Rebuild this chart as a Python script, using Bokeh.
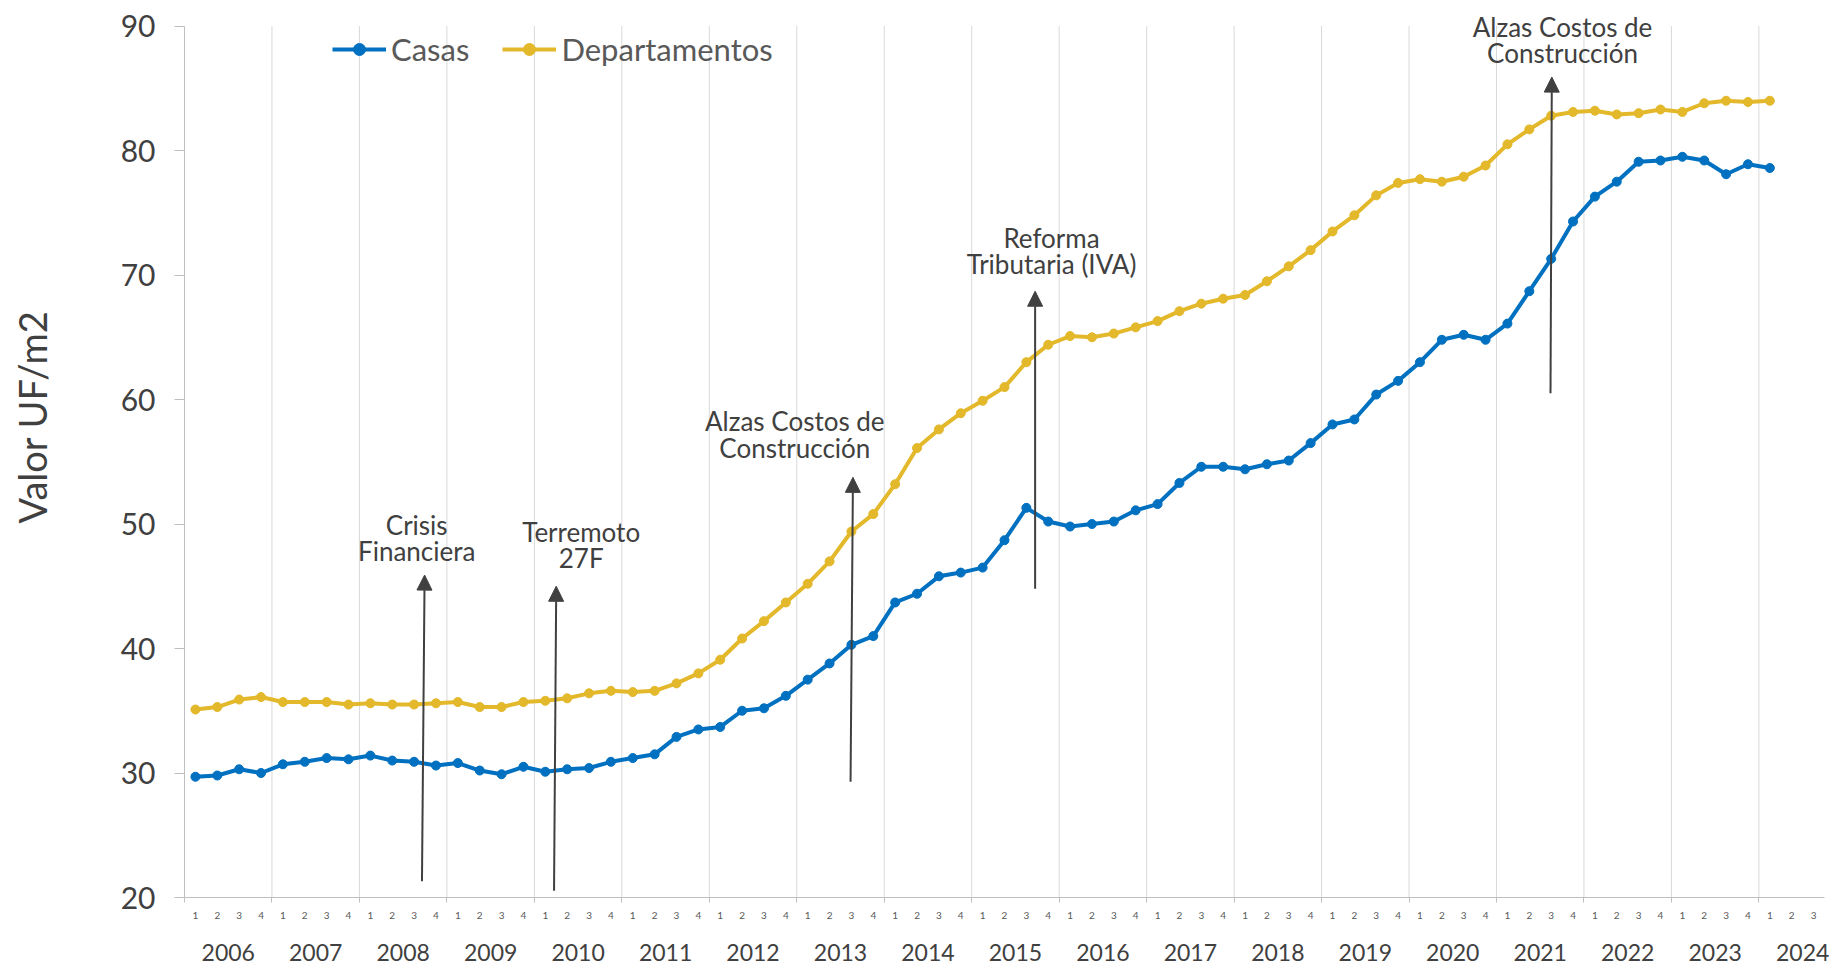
from bokeh.plotting import figure
from bokeh.models import (FixedTicker, LinearAxis, Range1d, Legend, LegendItem,
                          Arrow, NormalHead, ColumnDataSource, Title)
from bokeh.embed import file_html
from bokeh.resources import INLINE
from bokeh.core.properties import value

# ---------------- data ----------------
years = [str(y) for y in range(2006, 2025)]
quarter_names = ["1", "2", "3", "4"]
# axis categories: 2006-Q1 ... 2024-Q3
categories = [(y, q) for y in years for q in quarter_names][:75]

casas = [
    29.7, 29.8, 30.3, 30.0,   # 2006
    30.7, 30.9, 31.2, 31.1,   # 2007
    31.4, 31.0, 30.9, 30.6,   # 2008
    30.8, 30.2, 29.9, 30.5,   # 2009
    30.1, 30.3, 30.4, 30.9,   # 2010
    31.2, 31.5, 32.9, 33.5,   # 2011
    33.7, 35.0, 35.2, 36.2,   # 2012
    37.5, 38.8, 40.3, 41.0,   # 2013
    43.7, 44.4, 45.8, 46.1,   # 2014
    46.5, 48.7, 51.3, 50.2,   # 2015
    49.8, 50.0, 50.2, 51.1,   # 2016
    51.6, 53.3, 54.6, 54.6,   # 2017
    54.4, 54.8, 55.1, 56.5,   # 2018
    58.0, 58.4, 60.4, 61.5,   # 2019
    63.0, 64.8, 65.2, 64.8,   # 2020
    66.1, 68.7, 71.3, 74.3,   # 2021
    76.3, 77.5, 79.1, 79.2,   # 2022
    79.5, 79.2, 78.1, 78.9,   # 2023
    78.6,                     # 2024
]
departamentos = [
    35.1, 35.3, 35.9, 36.1,
    35.7, 35.7, 35.7, 35.5,
    35.6, 35.5, 35.5, 35.6,
    35.7, 35.3, 35.3, 35.7,
    35.8, 36.0, 36.4, 36.6,
    36.5, 36.6, 37.2, 38.0,
    39.1, 40.8, 42.2, 43.7,
    45.2, 47.0, 49.4, 50.8,
    53.2, 56.1, 57.6, 58.9,
    59.9, 61.0, 63.0, 64.4,
    65.1, 65.0, 65.3, 65.8,
    66.3, 67.1, 67.7, 68.1,
    68.4, 69.5, 70.7, 72.0,
    73.5, 74.8, 76.4, 77.4,
    77.7, 77.5, 77.9, 78.8,
    80.5, 81.7, 82.8, 83.1,
    83.2, 82.9, 83.0, 83.3,
    83.1, 83.8, 84.0, 83.9,
    84.0,
]
y_ticks = [20, 30, 40, 50, 60, 70, 80, 90]
y_min, y_max = 20, 90

# annotations (arrows + labels), in data units (x = quarter index)
ann_text = ["Crisis\nFinanciera", "Terremoto\n27F", "Alzas Costos de\nConstrucción",
            "Reforma\nTributaria (IVA)", "Alzas Costos de\nConstrucción"]
ann_x = [10.12, 17.64, 27.41, 39.15, 62.52]
ann_y = [48.9, 48.3, 57.2, 71.95, 88.9]
arr_x0 = [10.36, 16.40, 29.96, 38.40, 61.97]
arr_y0 = [21.3, 20.55, 29.3, 44.8, 60.5]
arr_x1 = [10.48, 16.50, 30.07, 38.40, 62.03]
arr_y1 = [45.9, 45.0, 53.75, 68.7, 85.9]

# ---------------- figure ----------------
n_cat = len(categories)
xi = list(range(len(casas)))
BLUE = "#0070C0"
GOLD = "#E3B82A"
DARK = "#404040"
AXIS = "#BFBFBF"
FONT = "Lato"

p = figure(x_range=Range1d(-0.5, n_cat - 0.5), y_range=Range1d(y_min, 91.25),
           width=1829, height=964,
           min_border_left=184, min_border_right=5, min_border_top=10, min_border_bottom=67,
           output_backend="svg", toolbar_location=None, x_axis_type=None, y_axis_type=None)
p.outline_line_color = None
p.background_fill_color = "white"
p.xgrid.grid_line_color = None
p.ygrid.grid_line_color = None

# year boundaries -> vertical grid lines
boundaries = [4 * k - 0.5 for k in range(0, 19)]
p.segment(x0=boundaries[1:], y0=y_min, x1=boundaries[1:], y1=y_max,
          line_color="#D9D9D9", line_width=1)

# quarter axis
qaxis = LinearAxis(ticker=FixedTicker(ticks=list(range(n_cat)), minor_ticks=boundaries),
                   major_label_overrides={i: categories[i][1] for i in range(n_cat)})
qaxis.axis_line_color = AXIS
qaxis.major_tick_line_color = None
qaxis.major_tick_out = 0
qaxis.major_tick_in = 0
qaxis.minor_tick_line_color = AXIS
qaxis.minor_tick_out = 5
qaxis.minor_tick_in = 0
qaxis.major_label_text_font = FONT
qaxis.major_label_text_font_size = "10px"
qaxis.major_label_text_color = "#595959"
qaxis.major_label_standoff = 9
p.add_layout(qaxis, "below")

# year axis
year_ticks = [4 * k + 1.5 for k in range(len(years))]
yaxis_years = LinearAxis(ticker=FixedTicker(ticks=year_ticks),
                         major_label_overrides={t: years[k] for k, t in enumerate(year_ticks)})
yaxis_years.axis_line_color = None
yaxis_years.major_tick_line_color = None
yaxis_years.major_tick_out = 0
yaxis_years.major_tick_in = 0
yaxis_years.minor_tick_line_color = None
yaxis_years.minor_tick_out = 0
yaxis_years.major_label_text_font = FONT
yaxis_years.major_label_text_font_size = "23px"
yaxis_years.major_label_text_color = DARK
yaxis_years.major_label_standoff = 22
p.add_layout(yaxis_years, "below")

# value axis
vaxis = LinearAxis(ticker=FixedTicker(ticks=y_ticks), bounds=(y_min, y_max))
vaxis.axis_line_color = AXIS
vaxis.major_tick_line_color = AXIS
vaxis.major_tick_out = 10
vaxis.major_tick_in = 0
vaxis.minor_tick_line_color = None
vaxis.major_label_text_font = FONT
vaxis.major_label_text_font_size = "30px"
vaxis.major_label_text_color = DARK
vaxis.major_label_standoff = 19
p.add_layout(vaxis, "left")

# blank spacer panel between the value axis and its title
spacer = Title(text=" ", text_font=FONT, text_font_size="10px")
if "standoff" in spacer.properties():
    spacer.standoff = 47
p.add_layout(spacer, "left")

# axis title
ytitle = Title(text="Valor UF/m2", align="right", vertical_align="top", offset=300,
               text_font=FONT, text_font_size="38px", text_font_style="normal",
               text_color=DARK)
if "standoff" in ytitle.properties():
    ytitle.standoff = 0
p.add_layout(ytitle, "left")

# series
l1 = p.line(xi, casas, line_color=BLUE, line_width=4)
s1 = p.scatter(xi, casas, size=9, fill_color=BLUE, line_color=BLUE)
l2 = p.line(xi, departamentos, line_color=GOLD, line_width=4)
s2 = p.scatter(xi, departamentos, size=9, fill_color=GOLD, line_color=GOLD)

# arrows
asrc = ColumnDataSource(dict(x0=arr_x0, y0=arr_y0, x1=arr_x1, y1=arr_y1))
p.add_layout(Arrow(end=NormalHead(size=15, fill_color=DARK, line_color=DARK),
                   x_start="x0", y_start="y0", x_end="x1", y_end="y1", source=asrc,
                   line_color=DARK, line_width=2))

# annotation texts
p.text(x=ann_x, y=ann_y, text=ann_text, text_align="center", text_baseline="middle",
       text_font=value(FONT), text_font_size="26px", text_color=DARK, text_line_height=0.82)

legend = Legend(items=[LegendItem(label="Casas", renderers=[l1, s1]),
                       LegendItem(label="Departamentos", renderers=[l2, s2])],
                orientation="horizontal", location=(148, 829),
                glyph_width=54, glyph_height=30, label_height=30, label_standoff=5,
                spacing=33, padding=0, margin=0, border_line_color=None,
                background_fill_alpha=0, label_text_font=FONT,
                label_text_font_size="31px", label_text_color="#595959")
p.add_layout(legend)

open("out.html", "w").write(file_html(p, INLINE))
